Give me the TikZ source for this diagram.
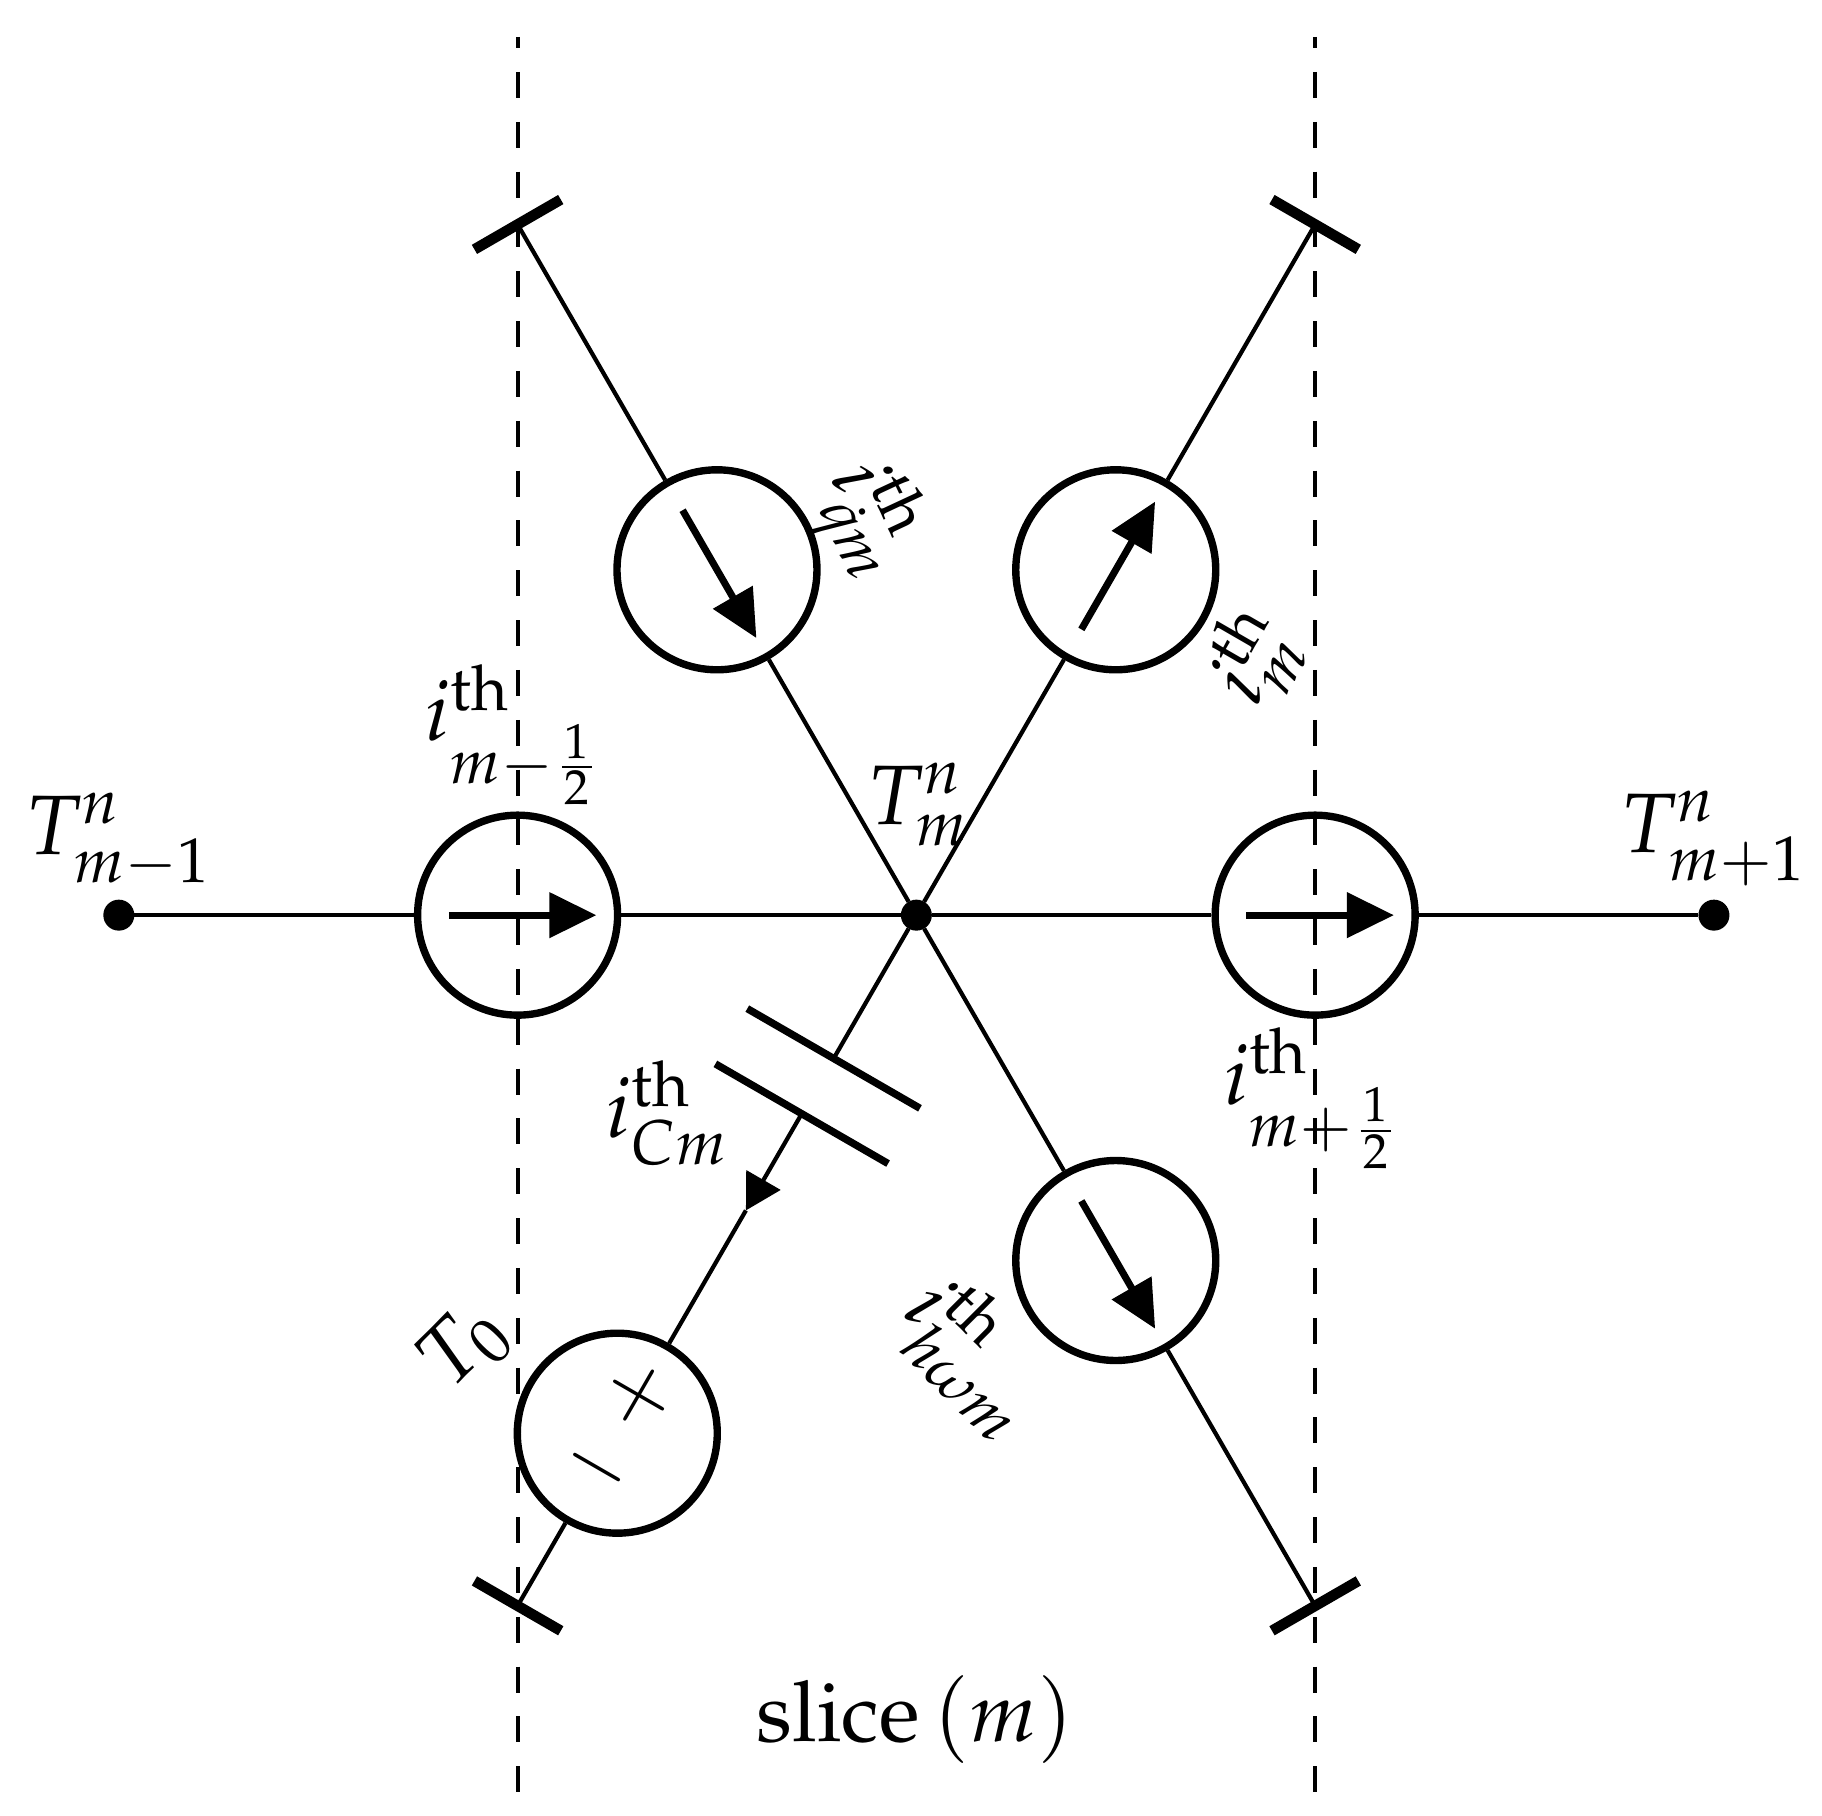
\documentclass[tikz,border=0pt]{standalone}
\usepackage[T1]{fontenc}
\usepackage{amsmath}
\usepackage{mathpazo}
\usepackage{tikz}
\usetikzlibrary{calc,arrows.meta}
\newcommand{\halff}{\frac{\mkern1mu 1\mkern1mu}{\mkern1mu 2\mkern1mu}}
\tikzset{
    wire/.style = {line width=0.6pt},
    src/.style = {draw, circle, line width=1.05pt, minimum size=1cm, inner sep=0pt},
    dot/.style = {fill, circle, minimum size=0.155cm, inner sep=0pt, outer sep=0pt},
    srcarrow/.style = {line width=1pt, -{Triangle[length=6.7pt,width=6.3pt]}},
    slicebound/.style = {line width=0.57pt, dash pattern=on 3.7pt off 3.39pt, dash phase=2.1pt},
    teebar/.style = {line width=1.5pt},
    capplate/.style = {line width=1.05pt},
    lbl/.style = {inner sep=0pt, font=\large}
}
\begin{document}
\begin{tikzpicture}[scale=0.997]
    \useasboundingbox (-4.596,-4.517) rectangle (4.542,4.590);
    % slice boundaries
    \coordinate (bl1) at (-2,4.405);
    \coordinate (bl2) at (-2,-4.403);
    \coordinate (br1) at (2,4.405);
    \coordinate (br2) at (2,-4.403);
    \draw[slicebound] (bl1) -- (bl2);
    \draw[slicebound] (br1) -- (br2);
    % nodes
    \node[dot] (Tc) at (0,0) {};
    \node[dot] (Tl) at (-4,0) {};
    \node[dot] (Tr) at (4,0) {};
    \node[src] (il) at (-2,0) {};
    \node[src] (ir) at (2,0) {};
    \node[src] (iq) at (120:2) {};
    \node[src] (im) at (60:2) {};
    \node[src] (ih) at (300:2) {};
    \node[src] (v0) at (240:3) {};
    \coordinate (tq) at (120:4);
    \coordinate (tm) at (60:4);
    \coordinate (th) at (300:4);
    \coordinate (tv) at (240:4);
    \coordinate (capa) at (240:0.83);
    \coordinate (capb) at (240:1.15);
    \coordinate (tipc) at (240:1.71);
    % wires
    \draw[wire] (Tl) -- (il);
    \draw[wire] (il) -- (Tc);
    \draw[wire] (Tc) -- (ir);
    \draw[wire] (ir) -- (Tr);
    \draw[wire] (tq) -- (iq);
    \draw[wire] (iq) -- (Tc);
    \draw[wire] (tm) -- (im);
    \draw[wire] (im) -- (Tc);
    \draw[wire] (Tc) -- (ih);
    \draw[wire] (ih) -- (th);
    \draw[wire] (Tc) -- (capa);
    \draw[wire, -{Triangle[length=5pt,width=5.5pt]}] (capb) -- (tipc);
    \draw[wire] (tipc) -- (v0);
    \draw[wire] (v0) -- (tv);
    % capacitor plates
    \draw[capplate] ($(capa)!0.5cm!90:(Tc)$) -- ($(capa)!0.5cm!-90:(Tc)$);
    \draw[capplate] ($(capb)!0.5cm!90:(Tc)$) -- ($(capb)!0.5cm!-90:(Tc)$);
    % insulated ends
    \foreach \e in {tq,tm,th,tv}
        \draw[teebar] ($(\e)!0.25cm!90:(Tc)$) -- ($(\e)!0.25cm!-90:(Tc)$);
    % current source arrows
    \foreach \n/\a in {il/0,ir/0,iq/-60,im/60,ih/-60}
        \draw[srcarrow] ($(\n)+(\a:-0.345)$) -- ($(\n)+(\a:0.395)$);
    % voltage source signs
    \node[lbl, rotate=-30] (vp) at ($(v0)+(60:0.22)$) {$+$};
    \node[lbl, rotate=-30] (vn) at ($(v0)+(60:-0.2)$) {$-$};
    % labels
    \node[lbl] (lTl) at (-4.0,0.375) {$T^{n}_{m-1}$};
    \node[lbl] (lTr) at (4.0,0.385) {$T^{n}_{m+1}$};
    \node[lbl] (lTc) at (0.01,0.555) {$T^{n}_{m}$};
    \node[lbl] (lil) at (-2.015,0.905) {$i^{\text{th}}_{m-\halff}$};
    \node[lbl] (lir) at (1.99,-0.92) {$i^{\text{th}}_{m+\halff}$};
    \node[lbl] (lic) at (-1.245,-0.995) {$i^{\text{th}}_{Cm}$};
    \node[lbl, rotate=-65] (liq) at (-0.235,1.985) {$i^{\text{th}}_{\dot{q}m}$};
    \node[lbl, rotate=60] (lim) at (1.687,1.29) {$i^{\text{th}}_{m}$};
    \node[lbl, rotate=-45] (lih) at (0.295,-2.2) {$i^{\text{th}}_{h\omega m}$};
    \node[lbl, rotate=45] (lT0) at (-2.265,-2.165) {$T_{0}$};
    \node[lbl] (lsl) at (-0.005,-4.035) {slice\hspace{2pt}$(m)$};
\end{tikzpicture}
\end{document}
